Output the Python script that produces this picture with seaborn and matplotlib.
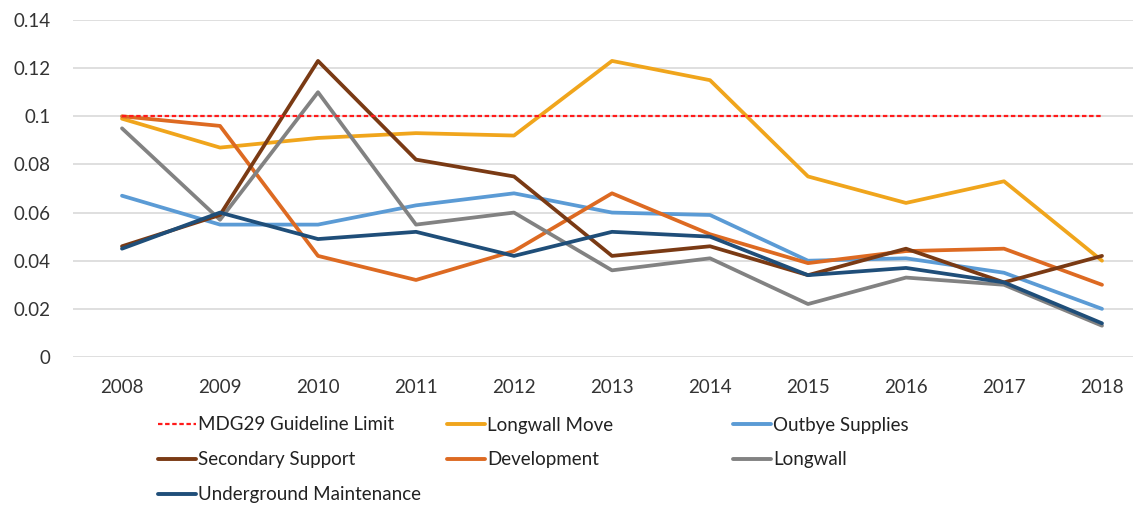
import pandas as pd
import numpy as np
import matplotlib
matplotlib.use('Agg')
import matplotlib.pyplot as plt
import seaborn as sns
from matplotlib.lines import Line2D

years = [2008, 2009, 2010, 2011, 2012, 2013, 2014, 2015, 2016, 2017, 2018]

limit = [0.100] * 11
longwall_move = [0.099, 0.087, 0.091, 0.093, 0.092, 0.123, 0.115, 0.075, 0.064, 0.073, 0.040]
outbye_supplies = [0.067, 0.055, 0.055, 0.063, 0.068, 0.060, 0.059, 0.040, 0.041, 0.035, 0.020]
secondary_support = [0.046, 0.059, 0.123, 0.082, 0.075, 0.042, 0.046, 0.034, 0.045, 0.031, 0.042]
development = [0.100, 0.096, 0.042, 0.032, 0.044, 0.068, 0.051, 0.039, 0.044, 0.045, 0.030]
longwall = [0.095, 0.057, 0.110, 0.055, 0.060, 0.036, 0.041, 0.022, 0.033, 0.030, 0.013]
underground_maint = [0.045, 0.060, 0.049, 0.052, 0.042, 0.052, 0.050, 0.034, 0.037, 0.031, 0.014]

series = {
    'Longwall Move': longwall_move,
    'Outbye Supplies': outbye_supplies,
    'Development': development,
    'Longwall': longwall,
    'Secondary Support': secondary_support,
    'Underground Maintenance': underground_maint,
}
colors = {
    'MDG29 Guideline Limit': '#FF1A1A',
    'Longwall Move': '#F0A51C',
    'Outbye Supplies': '#5B9BD5',
    'Secondary Support': '#7A3A14',
    'Development': '#DD6A22',
    'Longwall': '#828282',
    'Underground Maintenance': '#1F4E79',
}

# long format for seaborn
rows = []
for name, vals in series.items():
    for y, v in zip(years, vals):
        rows.append({'year': y, 'value': v, 'series': name})
df = pd.DataFrame(rows)
df_limit = pd.DataFrame({'year': years, 'value': limit})

sns.set_style('white')
plt.rcParams['font.family'] = ['Lato', 'DejaVu Sans']
fs = 13.5

fig = plt.figure(figsize=(11.33, 5.05), dpi=100)
ax = fig.add_axes([73 / 1133, 1 - 357 / 505, (1133 - 73) / 1133, 337 / 505])

sns.lineplot(data=df, x='year', y='value', hue='series', palette=colors,
             linewidth=2.7, ax=ax, legend=False, sort=False)
sns.lineplot(data=df_limit, x='year', y='value', color=colors['MDG29 Guideline Limit'],
             linewidth=1.6, linestyle=(0, (2, 1.2)), ax=ax, legend=False, zorder=5)

ax.set_ylim(0, 0.14)
ax.set_yticks(np.arange(0, 0.141, 0.02))
ax.set_yticklabels(['0', '0.02', '0.04', '0.06', '0.08', '0.1', '0.12', '0.14'])
ax.set_xlim(2007.5, 2007.5 + (1133 - 73) / 98)
ax.set_xticks(years)
ax.set_xticklabels([str(y) for y in years])
ax.set_xlabel('')
ax.set_ylabel('')
ax.grid(axis='y', color='#DCDCDC', linewidth=1.3)
ax.set_axisbelow(True)
for s in ax.spines.values():
    s.set_visible(False)
ax.tick_params(axis='both', length=0, labelsize=fs, colors='#333333')
ax.tick_params(axis='x', pad=16)
ax.tick_params(axis='y', pad=16)

# legend below, laid out like the original in three columns
cols = [
    (158, ['MDG29 Guideline Limit', 'Secondary Support', 'Underground Maintenance']),
    (447, ['Longwall Move', 'Development']),
    (733, ['Outbye Supplies', 'Longwall']),
]
for xpx, names in cols:
    handles = []
    for n in names:
        if n == 'MDG29 Guideline Limit':
            handles.append(Line2D([], [], color=colors[n], linewidth=1.6, linestyle=(0, (2, 1.2))))
        else:
            handles.append(Line2D([], [], color=colors[n], linewidth=2.8))
    fig.legend(handles, names, loc='upper left',
               bbox_to_anchor=((xpx - 7.5) / 1133, 1 - 409 / 505),
               frameon=False, fontsize=fs, handlelength=2.0, handletextpad=0.15,
               labelspacing=0.95, borderaxespad=0, labelcolor='#222222')

fig.savefig('out.png', dpi=100, facecolor='white')
